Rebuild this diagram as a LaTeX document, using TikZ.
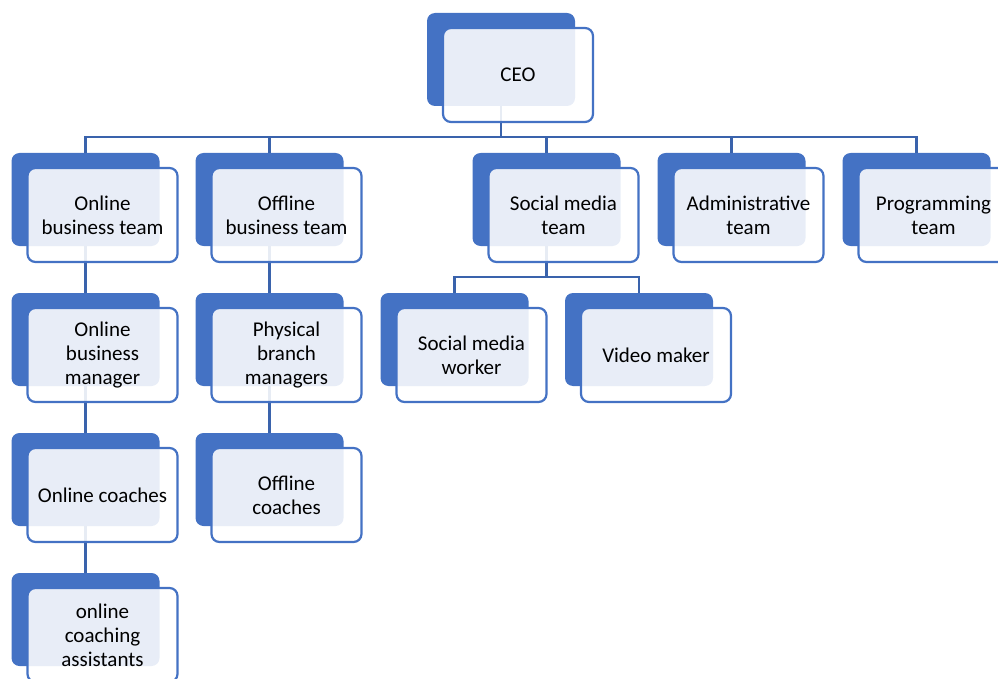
\documentclass[tikz,border=0pt]{standalone}
\usepackage{fontspec}
\setmainfont{Carlito}
\definecolor{unitblue}{HTML}{4472C4}
\definecolor{linkblue}{HTML}{3A63AC}

\begin{document}
\begin{tikzpicture}[x=1pt, y=-1pt,
    back/.style={fill=unitblue, rounded corners=8pt, minimum width=148pt, minimum height=93pt, inner sep=0pt, outer sep=0pt},
    front/.style={draw=unitblue, line width=2.2pt, fill=white, fill opacity=0.88, text opacity=1, rounded corners=8pt,
                  minimum width=150pt, minimum height=94pt, inner sep=0pt, align=center, font=\fontsize{21}{24}\selectfont},
    link/.style={draw=linkblue, line width=2.2pt}]
    \clip (0,0) rectangle (998,679);
    \def\units{ceo/501/59.5/CEO, online/85.5/199.5/{Online\\business team}, offline/269.5/199.5/{Offline\\business team},
        social/546.5/199.5/{Social media\\team}, admin/731.5/199.5/{Administrative\\team}, prog/916.5/199.5/{Programming\\team},
        onlinemgr/85.5/339.5/{Online\\business\\manager}, branch/269.5/339.5/{Physical\\branch\\managers},
        worker/454.5/339.5/{Social media\\worker}, video/639/339.5/{Video maker},
        onlinecoach/85.5/479.5/{Online coaches}, offcoach/269.5/479.5/{Offline\\coaches},
        assist/85.5/619.5/{online\\coaching\\assistants}}
    % back boxes
    \foreach \n/\x/\y/\t in \units
        \node[back] (\n) at (\x,\y) {};
    % connectors
    \path (ceo.south) ++(0,31) coordinate (ceobus);
    \path (social.south) ++(0,31) coordinate (socialbus);
    \foreach \c in {online,offline,social,admin,prog}
        \draw[link] (ceo.south) -- (ceobus) -| (\c.north);
    \foreach \c in {worker,video}
        \draw[link] (social.south) -- (socialbus) -| (\c.north);
    \draw[link] (online.south) -- (onlinemgr.north);
    \draw[link] (onlinemgr.south) -- (onlinecoach.north);
    \draw[link] (onlinecoach.south) -- (assist.north);
    \draw[link] (offline.south) -- (branch.north);
    \draw[link] (branch.south) -- (offcoach.north);
    % front boxes
    \foreach \n/\x/\y/\t in \units
        \node[front] (\n-f) at ([shift={(17,15.5)}]\n.center) {\t};
\end{tikzpicture}
\end{document}
